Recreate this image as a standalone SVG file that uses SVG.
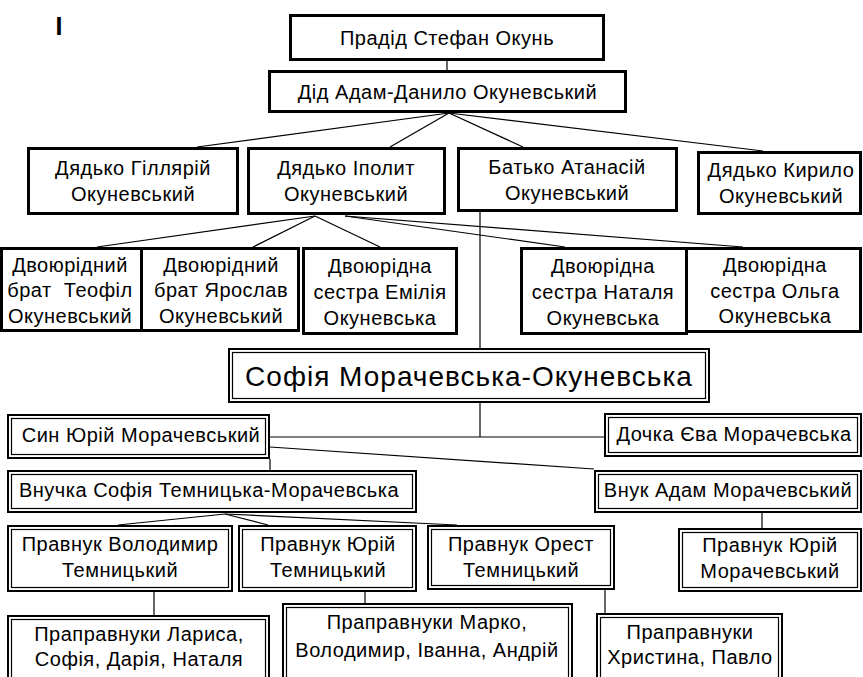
<svg xmlns="http://www.w3.org/2000/svg" width="863" height="677" viewBox="0 0 863 677">
<style>
.thick{fill:#fff;stroke:#000;stroke-width:3}
.dbo{fill:#fff;stroke:#000;stroke-width:2}
.dbi{fill:none;stroke:#000;stroke-width:1.2}
.t{font-family:"Liberation Sans",Arial,sans-serif;font-size:20px;letter-spacing:0.5px;text-anchor:middle;fill:#000}
.big{font-size:28px;letter-spacing:1px}
#connectors line{stroke:#000;stroke-width:1.2}
</style>
<rect width="863" height="677" fill="#fff"/>
<text x="55.5" y="35" style="font-family:'Liberation Sans',Arial,sans-serif;font-size:25px;font-weight:bold">I</text>
<g id="connectors">
<line x1="447" y1="61" x2="447" y2="70"/>
<line x1="449" y1="113" x2="197" y2="147"/>
<line x1="449" y1="113" x2="390" y2="147"/>
<line x1="449" y1="113" x2="523" y2="147"/>
<line x1="449" y1="113" x2="763" y2="151"/>
<line x1="315" y1="216" x2="97" y2="247"/>
<line x1="315" y1="216" x2="253" y2="247"/>
<line x1="315" y1="216" x2="380" y2="247"/>
<line x1="345" y1="216" x2="565" y2="247"/>
<line x1="345" y1="216" x2="743" y2="247"/>
<line x1="480" y1="212" x2="480" y2="348"/>
<line x1="480" y1="403" x2="480" y2="437"/>
<line x1="270" y1="437" x2="604" y2="437"/>
<line x1="270" y1="447" x2="594" y2="469"/>
<line x1="270" y1="459" x2="270" y2="470"/>
<line x1="225" y1="514" x2="118" y2="525"/>
<line x1="225" y1="514" x2="268" y2="525"/>
<line x1="225" y1="514" x2="457" y2="525"/>
<line x1="762" y1="513" x2="762" y2="528"/>
<line x1="154" y1="592" x2="154" y2="615"/>
<line x1="365" y1="592" x2="365" y2="603"/>
<line x1="605" y1="590" x2="605" y2="613"/>
</g>
<g id="pradid"><rect class="thick" x="290.5" y="15.5" width="313" height="44"/><text class="t" x="447" y="44.5">Прадід Стефан Окунь</text></g>
<g id="did"><rect class="thick" x="269.5" y="71.5" width="356" height="40"/><text class="t" x="447.5" y="99">Дід Адам-Данило Окуневський</text></g>
<g id="hillarii"><rect class="thick" x="28.5" y="148.5" width="209" height="65"/><text class="t" x="133" y="175">Дядько Гіллярій</text><text class="t" x="133" y="201">Окуневський</text></g>
<g id="ipolyt"><rect class="thick" x="248.5" y="148.5" width="196" height="65"/><text class="t" x="346" y="175">Дядько Іполит</text><text class="t" x="346" y="201">Окуневський</text></g>
<g id="atanasii"><rect class="thick" x="458.5" y="148.5" width="218" height="62"/><text class="t" x="567" y="174">Батько Атанасій</text><text class="t" x="567" y="200">Окуневський</text></g>
<g id="kyrylo"><rect class="thick" x="698.5" y="152.5" width="162" height="61"/><text class="t" x="781" y="177">Дядько Кирило</text><text class="t" x="781" y="203">Окуневський</text></g>
<g id="teofil"><rect class="thick" x="1.5" y="248.5" width="140" height="82"/><text class="t" x="70" y="272">Двоюрідний</text><text class="t" x="70" y="297" xml:space="preserve">брат  Теофіл</text><text class="t" x="70" y="323">Окуневський</text></g>
<g id="yaroslav"><rect class="thick" x="141.5" y="248.5" width="157" height="82"/><text class="t" x="221" y="272">Двоюрідний</text><text class="t" x="221" y="297">брат Ярослав</text><text class="t" x="221" y="323">Окуневський</text></g>
<g id="emilia"><rect class="thick" x="303.5" y="248.5" width="153" height="85"/><text class="t" x="380" y="273">Двоюрідна</text><text class="t" x="380" y="299">сестра Емілія</text><text class="t" x="380" y="325">Окуневська</text></g>
<g id="natalia"><rect class="thick" x="521.5" y="248.5" width="165" height="85"/><text class="t" x="603" y="273">Двоюрідна</text><text class="t" x="603" y="299">сестра Наталя</text><text class="t" x="603" y="325">Окуневська</text></g>
<g id="olha"><rect class="thick" x="686.5" y="248.5" width="174" height="83"/><text class="t" x="775" y="272">Двоюрідна</text><text class="t" x="775" y="298">сестра Ольга</text><text class="t" x="775" y="323">Окуневська</text></g>
<g id="sofia"><rect class="dbo" x="229" y="349" width="480" height="53"/><rect class="dbi" x="232.5" y="352.5" width="473" height="46"/><text class="t big" x="469" y="386">Софія Морачевська-Окуневська</text></g>
<g id="syn"><rect class="dbo" x="8" y="415" width="261" height="43"/><rect class="dbi" x="11.5" y="418.5" width="254" height="36"/><text class="t" x="141" y="442">Син Юрій Морачевський</text></g>
<g id="dochka"><rect class="dbo" x="605" y="414" width="256" height="42"/><rect class="dbi" x="608.5" y="417.5" width="249" height="35"/><text class="t" x="734" y="441">Дочка Єва Морачевська</text></g>
<g id="vnuchka"><rect class="dbo" x="8" y="471" width="408" height="41"/><rect class="dbi" x="11.5" y="474.5" width="401" height="34"/><text class="t" x="209" y="497">Внучка Софія Темницька-Морачевська</text></g>
<g id="vnuk"><rect class="dbo" x="595" y="471" width="266" height="41"/><rect class="dbi" x="598.5" y="474.5" width="259" height="34"/><text class="t" x="728" y="497">Внук Адам Морачевський</text></g>
<g id="volodymyr"><rect class="dbo" x="8" y="526" width="224" height="65"/><rect class="dbi" x="11.5" y="529.5" width="217" height="58"/><text class="t" x="120" y="551">Правнук Володимир</text><text class="t" x="120" y="577">Темницький</text></g>
<g id="yurii-t"><rect class="dbo" x="239" y="526" width="177" height="65"/><rect class="dbi" x="242.5" y="529.5" width="170" height="58"/><text class="t" x="328" y="551">Правнук Юрій</text><text class="t" x="328" y="577">Темницький</text></g>
<g id="orest"><rect class="dbo" x="428" y="526" width="186" height="63"/><rect class="dbi" x="431.5" y="529.5" width="179" height="56"/><text class="t" x="521" y="551">Правнук Орест</text><text class="t" x="521" y="577">Темницький</text></g>
<g id="yurii-m"><rect class="dbo" x="679" y="529" width="182" height="62"/><rect class="dbi" x="682.5" y="532.5" width="175" height="55"/><text class="t" x="770" y="552">Правнук Юрій</text><text class="t" x="770" y="578">Морачевський</text></g>
<g id="larysa"><rect class="dbo" x="8" y="616" width="261" height="80"/><rect class="dbi" x="11.5" y="619.5" width="254" height="73"/><text class="t" x="139" y="641">Праправнуки Лариса,</text><text class="t" x="139" y="666">Софія, Дарія, Наталя</text></g>
<g id="marko"><rect class="dbo" x="283" y="604" width="289" height="90"/><rect class="dbi" x="286.5" y="607.5" width="282" height="83"/><text class="t" x="427" y="629">Праправнуки Марко,</text><text class="t" x="427" y="657">Володимир, Іванна, Андрій</text></g>
<g id="khrystyna"><rect class="dbo" x="597" y="614" width="185" height="80"/><rect class="dbi" x="600.5" y="617.5" width="178" height="73"/><text class="t" x="690" y="639">Праправнуки</text><text class="t" x="690" y="664">Христина, Павло</text></g>
</svg>
